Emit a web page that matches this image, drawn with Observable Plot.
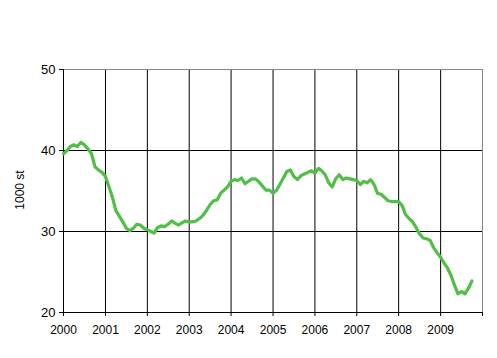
<!DOCTYPE html>
<html>
<head>
<meta charset="utf-8">
<script src="https://cdn.jsdelivr.net/npm/d3@7"></script>
<script src="https://cdn.jsdelivr.net/npm/@observablehq/plot@0.6"></script>
<style>
  html, body { margin: 0; padding: 0; background: #fff; }
  #chart svg { display: block; }
</style>
</head>
<body>
<div id="chart"></div>
<script>
// Monthly values, Jan 2000 onwards (1000 st)
const startYear = 2000;
const values = [
  39.6, 40.0, 40.5, 40.7, 40.5, 41.0, 40.7, 40.2, 39.6, 38.0, 37.6, 37.3, // 2000
  36.8, 35.5, 34.3, 32.6, 31.9, 31.2, 30.4, 30.1, 30.4, 30.9, 30.8, 30.4, // 2001
  30.2, 30.0, 29.8, 30.5, 30.7, 30.6, 30.9, 31.3, 31.0, 30.8, 31.1, 31.3, // 2002
  31.2, 31.2, 31.3, 31.6, 32.0, 32.6, 33.3, 33.8, 33.9, 34.7, 35.1, 35.5, // 2003
  36.2, 36.4, 36.3, 36.6, 35.9, 36.2, 36.5, 36.5, 36.1, 35.6, 35.1, 35.1, // 2004
  34.7, 35.1, 35.8, 36.6, 37.4, 37.6, 36.8, 36.4, 36.9, 37.1, 37.3, 37.5, // 2005
  37.2, 37.8, 37.5, 37.0, 36.0, 35.5, 36.5, 37.0, 36.4, 36.6, 36.5, 36.4, // 2006
  36.3, 35.8, 36.2, 36.0, 36.4, 35.8, 34.7, 34.6, 34.2, 33.8, 33.7, 33.7, // 2007
  33.7, 33.2, 32.1, 31.6, 31.2, 30.5, 29.7, 29.2, 29.1, 28.9, 28.0, 27.4, // 2008
  26.8, 26.1, 25.5, 24.6, 23.4, 22.3, 22.6, 22.3, 23.0, 23.9              // 2009
];
const yearTicks = [2000, 2001, 2002, 2003, 2004, 2005, 2006, 2007, 2008, 2009];
const yTicks = [20, 30, 40, 50];
const yLabel = "1000 st";

const data = values.map((v, i) => ({date: new Date(Date.UTC(startYear, i, 1)), value: v}));
const yd = y => new Date(Date.UTC(y, 0, 1));

const chart = Plot.plot({
  width: 497,
  height: 358,
  marginLeft: 63,
  marginRight: 15,
  marginTop: 69,
  marginBottom: 46,
  style: {fontFamily: "Arial, 'Liberation Sans', sans-serif", fontSize: "12px", color: "#000", background: "#fff"},
  x: {type: "utc", domain: [yd(2000), yd(2010)]},
  y: {type: "linear", domain: [20, 50]},
  marks: [
    Plot.ruleY([30, 40], {stroke: "#000", strokeWidth: 1}),
    Plot.ruleX(yearTicks.slice(1).map(yd), {stroke: "#000", strokeWidth: 1}),
    Plot.ruleY([50], {stroke: "#888", strokeWidth: 1}),
    Plot.ruleX([yd(2010)], {stroke: "#888", strokeWidth: 1}),
    Plot.ruleX([yd(2000)], {stroke: "#000", strokeWidth: 1}),
    Plot.ruleY([20], {stroke: "#000", strokeWidth: 1}),
    Plot.axisY({
      ticks: yTicks, tickSize: 4, tickPadding: 4, fontSize: 13,
      label: null
    }),
    Plot.axisX({
      ticks: [...yearTicks, 2010].map(yd), tickSize: 4, tickPadding: 9,
      tickFormat: d => d.getUTCFullYear() === 2010 ? "" : String(d.getUTCFullYear()),
      label: null, fontSize: 12
    }),
    Plot.line(data, {x: "date", y: "value", stroke: "#4fbf45", strokeWidth: 3.2, curve: "linear"})
  ]
});
d3.select(chart).append("text")
  .attr("transform", `translate(24,190) rotate(-90)`)
  .attr("text-anchor", "middle")
  .attr("font-family", "Arial, 'Liberation Sans', sans-serif")
  .attr("font-size", 12)
  .attr("fill", "#000")
  .text(yLabel);
document.getElementById("chart").appendChild(chart);
</script>
</body>
</html>
